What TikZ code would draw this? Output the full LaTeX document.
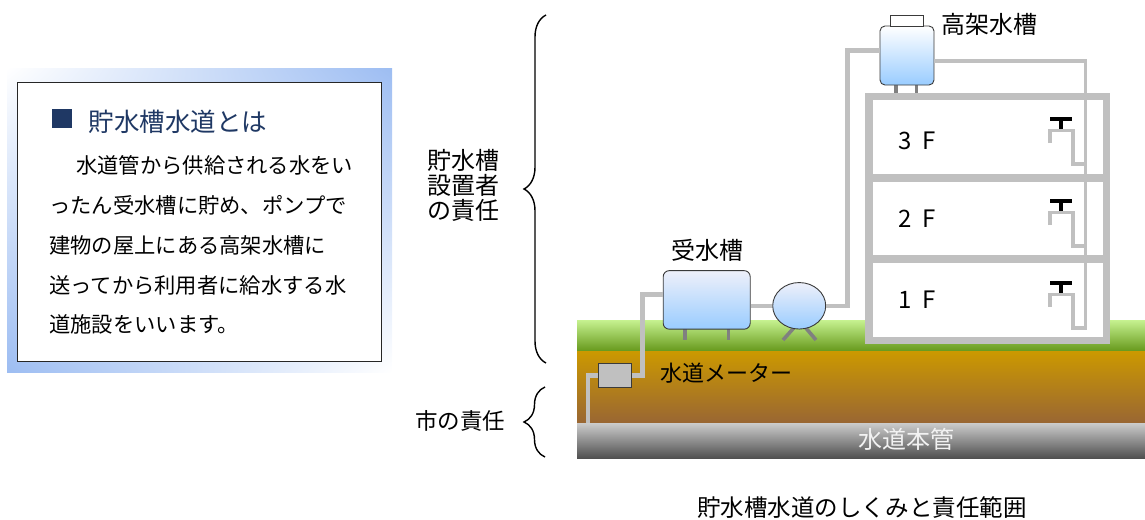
\documentclass[tikz,border=0pt]{standalone}
\usepackage{fontspec}
\setmainfont{Noto Sans CJK JP}
\usetikzlibrary{shapes.geometric,decorations.pathreplacing,calc,shadings}

\definecolor{pipegray}{HTML}{C0C0C0}
\definecolor{leggray}{HTML}{808080}
\definecolor{frameblue}{HTML}{9DBDF2}
\definecolor{titlenavy}{HTML}{1F3864}
\definecolor{tankedge}{HTML}{3A3A3A}
\definecolor{tanktop}{HTML}{EEF0FA}
\definecolor{tankbot}{HTML}{99CCFF}
\definecolor{grasstop}{HTML}{C6F290}
\definecolor{grassbot}{HTML}{67991C}
\definecolor{soiltop}{HTML}{CC9900}
\definecolor{soilbot}{HTML}{996633}
\definecolor{maintop}{HTML}{CCCCCC}
\definecolor{mainbot}{HTML}{505050}

\newcommand\jsize[1]{\fontsize{#1}{#1}\selectfont}

\begin{document}
\begin{tikzpicture}[x=1pt,y=-1pt,
  pipe/.style={draw=pipegray,line width=4.5pt,line join=miter},
  thinpipe/.style={draw=pipegray,line width=3.6pt,line join=miter},
  wall/.style={draw=pipegray,line width=7.5pt},
  leg/.style={draw=leggray,line width=3.6pt},
  tank/.style={draw=tankedge,line width=0.9pt,rounded corners=6pt,
    top color=tanktop,bottom color=tankbot,inner sep=0pt},
  lbl/.style={inner sep=0pt,font=\jsize{24}},
  bodyline/.style={inner sep=0pt,anchor=west,font=\jsize{21.3}},
  bracestyle/.style={decorate,decoration={brace,amplitude=22pt},line width=1.4pt}
]
\useasboundingbox (0,0) rectangle (1145,519);

% ---------- explanation box ----------
\shade[upper left=white,upper right=frameblue,lower left=frameblue,lower right=white]
  (7,68) rectangle (392,372);
\draw[draw=black!85,line width=1.2pt,fill=white] (17.3,82.7) rectangle (381.7,361.7);
\fill[titlenavy] (51.7,109) rectangle (71.7,128);
\node[inner sep=0pt,anchor=west,font=\jsize{25.5},text=titlenavy] (title) at (88.5,121.7) {貯水槽水道とは};
\node[bodyline] (b1) at (76,165) {水道管から供給される水をい};
\node[bodyline] (b2) at (49,205) {ったん受水槽に貯め、ポンプで};
\node[bodyline] (b3) at (49,245) {建物の屋上にある高架水槽に};
\node[bodyline] (b4) at (49,285) {送ってから利用者に給水する水};
\node[bodyline] (b5) at (49,324) {道施設をいいます。};

% ---------- responsibility braces ----------
\coordinate (bigtop) at (546,15);
\coordinate (bigbot) at (546,363);
\coordinate (smalltop) at (545,387);
\coordinate (smallbot) at (545,457);
\draw[bracestyle] (bigbot) -- (bigtop);
\draw[bracestyle,decoration={amplitude=21pt}] (smallbot) -- (smalltop);
\node[inner sep=0pt,align=center,font=\fontsize{24}{25}\selectfont] (owner) at (463,185) {貯水槽\\設置者\\の責任};
\node[inner sep=0pt,font=\jsize{22.5}] (city) at (460,421) {市の責任};

% ---------- ground ----------
\shade[top color=grasstop,bottom color=grassbot] (577,320) rectangle (1145,351);
\shade[top color=soiltop,bottom color=soilbot] (577,351) rectangle (1145,423);
\shade[top color=maintop,middle color=gray!70,bottom color=mainbot] (577,423) rectangle (1145,458);
\node[lbl,text=white!95!black] (main) at (906,439.5) {水道本管};

% ---------- building ----------
\draw[wall,fill=white] (868.9,96.7) rectangle (1106.3,340.5);
\draw[wall] (868.9,177.8) -- (1106.3,177.8);
\draw[wall] (868.9,258.8) -- (1106.3,258.8);
\node[lbl] (f3) at (917,140.5) {3\hspace{0.45em}F};
\node[lbl] (f2) at (917,219) {2\hspace{0.45em}F};
\node[lbl] (f1) at (917,300) {1\hspace{0.45em}F};

% ---------- tanks, pump, meter ----------
\draw[leg] (685,327) -- (685,340);
\draw[leg] (728.6,327) -- (728.6,340);
\draw[leg] (800,321) -- (783,340);
\draw[leg] (800,321) -- (816,340);
\draw[leg] (896,83) -- (896,93);
\draw[leg] (916.5,83) -- (916.5,93);

\node[tank,minimum width=87pt,minimum height=58.5pt] (rtank) at (706.7,299.9) {};
\node[tank,rounded corners=5pt,top color=white,minimum width=54pt,minimum height=59pt] (etank) at (907,55.5) {};
\node[draw=tankedge,line width=0.9pt,fill=white,inner sep=0pt,minimum width=33pt,minimum height=11pt] (lid) at (906.5,20.5) {};
\node[ellipse,draw=tankedge,line width=0.9pt,top color=tanktop,bottom color=tankbot,
  inner sep=0pt,minimum width=53pt,minimum height=46.5pt] (pump) at (799.2,305.8) {};
\node[draw=tankedge,line width=0.9pt,fill=pipegray,inner sep=0pt,minimum width=32.5pt,minimum height=24pt] (meter) at (615,375.3) {};

% ---------- pipes ----------
\coordinate (tap) at (588,423);
\coordinate (upmeter) at (642.4,294.5);
\coordinate (pumpup) at (847.5,50.5);
\coordinate (riser) at (1085.5,61.3);
\coordinate (riserfoot) at (1085.5,328);
\draw[pipe] (tap) |- (meter.west);
\draw[pipe] (meter.east) -| (upmeter) -- (upmeter -| rtank.west);
\draw[pipe] (rtank.east |- pump.west) -- (pump.west);
\draw[pipe] (pump.east) -| (pumpup) -- (pumpup -| etank.west);
\draw[thinpipe] (riser -| etank.east) -- (riser) -- (riserfoot)
  -- (1073,328) -- (1073,294.5) -- (1050,294.5) -- (1050,307);

% ---------- faucets ----------
\foreach \yb in {130.5,212.5,294.5} {
  \ifdim\yb pt<290pt
    \draw[thinpipe] (1050,\yb+12.5) -- (1050,\yb) -- (1073,\yb) -- (1073,\yb+33.5) -- (1085.5,\yb+33.5);
  \fi
  \draw[black,line width=3.3pt] (1050.3,\yb-11.5) -- (1072.3,\yb-11.5);
  \draw[black,line width=4.5pt] (1060.8,\yb-11.5) -- (1060.8,\yb-1.8);
}

% ---------- labels ----------
\node[lbl] (etanklbl) at (989.8,24.2) {高架水槽};
\node[lbl] (rtanklbl) at (707.5,250) {受水槽};
\node[lbl,anchor=west,font=\jsize{22}] (meterlbl) at (660.5,373) {水道メーター};
\node[lbl,font=\jsize{23.5}] (caption) at (862,508) {貯水槽水道のしくみと責任範囲};
\end{tikzpicture}
\end{document}
